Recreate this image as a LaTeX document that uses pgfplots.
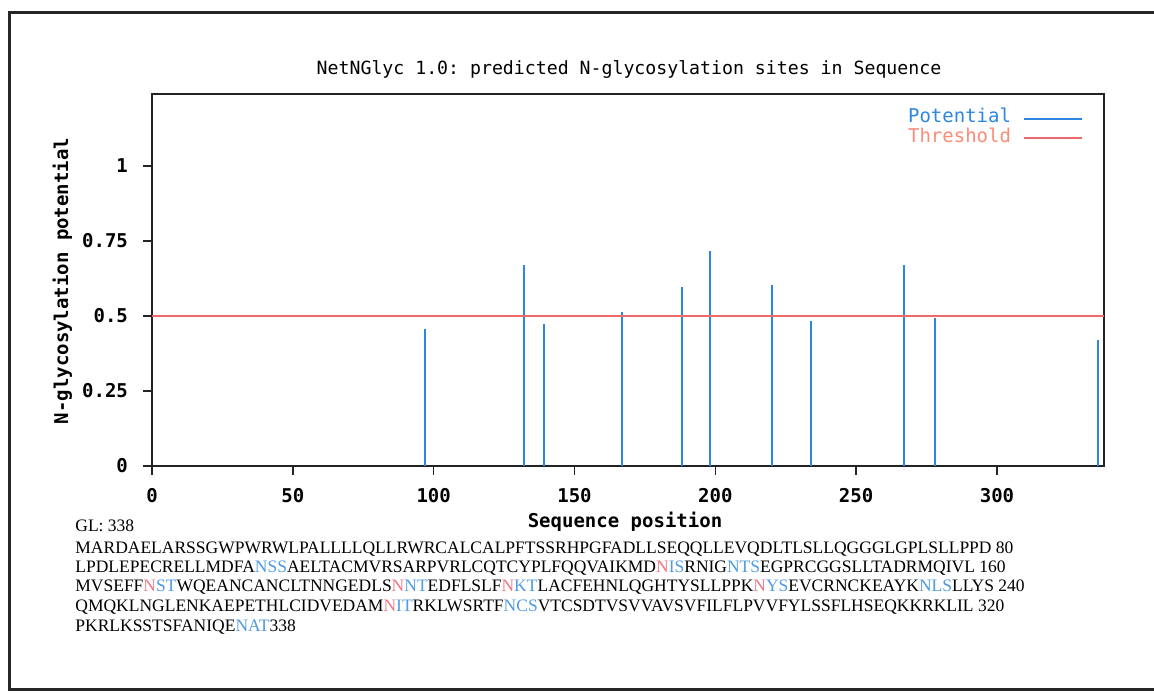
\documentclass[border=0pt]{standalone}
\usepackage{fontspec}
\setmainfont{Liberation Serif}
\setmonofont{DejaVu Sans Mono}
\usepackage{pgfplots}
\pgfplotsset{compat=1.18}

\definecolor{potblue}{RGB}{45,135,225}
\definecolor{thrred}{RGB}{238,105,105}
\definecolor{thrtext}{RGB}{250,140,120}
\definecolor{seqred}{RGB}{240,120,135}
\definecolor{seqblue}{RGB}{80,155,225}
\definecolor{axisgray}{RGB}{35,35,35}

\newcommand{\gp}{\fontsize{9.5}{11}\ttfamily}
\newcommand{\gpb}{\fontsize{9.5}{11}\ttfamily\bfseries}
\newcommand{\sq}{\fontsize{8.75}{10}\rmfamily}
\newcommand{\R}[1]{\textcolor{seqred}{#1}}
\newcommand{\B}[1]{\textcolor{seqblue}{#1}}

\begin{document}
\begin{tikzpicture}[x=0.5pt,y=-0.5pt]
\useasboundingbox (0,0) rectangle (1154,692);
\clip (0,0) rectangle (1154,692);
% page frame
\draw[line width=1.5pt, black!85] (1170,12) -- (9,12) -- (9,689) -- (1170,689);

\begin{axis}[
    at={(76pt,-233pt)}, anchor=south west,
    scale only axis, width=476pt, height=186pt,
    xmin=0, xmax=338, ymin=0, ymax=1.24,
    xtick={0,50,...,300},
    ytick={0,0.25,0.5,0.75,1},
    xtick pos=bottom, ytick pos=left,
    tick align=outside, major tick length=4.5pt,
    axis line style={axisgray, line width=0.9pt},
    every tick/.append style={axisgray, line width=0.7pt},
    ticklabel style={font=\gpb},
    /pgf/number format/assume math mode=true,
    xticklabel style={yshift=-3pt},
    yticklabel style={xshift=-4pt},
    legend plot pos=right,
    legend cell align=right,
    legend image code/.code={\draw[#1] (0pt,0pt) -- (29pt,0pt);},
    legend style={draw=none, fill=none, font=\gp, inner sep=0pt,
        at={(rel axis cs:0.978,0.960)}, anchor=north east,
        column sep=5.5pt,
        nodes={inner sep=0.5pt, text height=6.3pt, text depth=2.35pt}},
]
\addplot[ycomb, potblue, line width=1pt, no markers, forget plot]
    coordinates {
    (97,0.457) (132,0.671) (139,0.475) (167,0.512) (188,0.597)
    (198,0.716) (220,0.603) (234,0.485) (267,0.670) (278,0.495)
    (336,0.420)
    };
\addplot[thrred, line width=0.7pt, no markers, forget plot]
    coordinates {(0,0.5) (338,0.5)};
\addlegendimage{potblue, line width=0.8pt}
\addlegendentry{\textcolor{potblue}{Potential}}
\addlegendimage{thrred, line width=0.8pt}
\addlegendentry{\textcolor{thrtext}{Threshold}}
\end{axis}

\node[font=\fontsize{9.1}{11}\ttfamily, anchor=base] at (629,74)
    {NetNGlyc 1.0: predicted N-glycosylation sites in Sequence};
\node[font=\gpb, anchor=base] at (625,527) {Sequence position};
\node[font=\gpb, anchor=base, rotate=90] at (68,281) {N-glycosylation potential};

% sequence listing
\begin{scope}[every node/.style={font=\sq, anchor=base west, inner sep=0pt}]
\node at (75,531) {GL: 338};
\node at (75,553) {MARDAELARSSGWPWRWLPALLLLQLLRWRCALCALPFTSSRHPGFADLLSEQQLLEVQDLTLSLLQGGGLGPLSLLPPD 80};
\node at (75,572) {LPDLEPECRELLMDFA\B{NSS}AELTACMVRSARPVRLCQTCYPLFQQVAIKMD\R{N}\B{IS}RNIG\B{NTS}EGPRCGGSLLTADRMQIVL 160};
\node at (75,591.5) {MVSEFF\R{N}\B{ST}WQEANCANCLTNNGEDLS\R{N}\B{NT}EDFLSLF\R{N}\B{KT}LACFEHNLQGHTYSLLPPK\R{N}\B{YS}EVCRNCKEAYK\B{NLS}LLYS 240};
\node at (75,611.5) {QMQKLNGLENKAEPETHLCIDVEDAM\R{N}\B{IT}RKLWSRTF\B{NCS}VTCSDTVSVVAVSVFILFLPVVFYLSSFLHSEQKKRKLIL 320};
\node at (75,631) {PKRLKSSTSFANIQE\B{NAT}338};
\end{scope}
\end{tikzpicture}
\end{document}
